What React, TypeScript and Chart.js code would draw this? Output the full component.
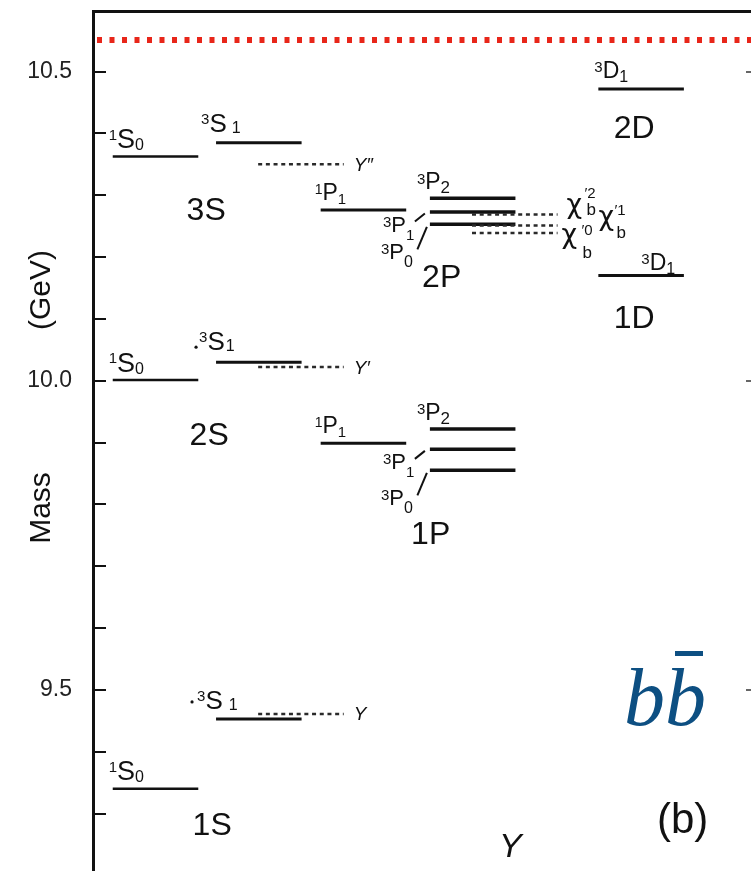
import React, { useEffect, useRef } from 'react';
import { Chart, registerables } from 'chart.js';

Chart.register(...registerables);

const SANS = '"Liberation Sans", Arial, Helvetica, sans-serif';
const GREEK = '"DejaVu Sans", "Liberation Sans", sans-serif';
const SERIF = '"Liberation Serif", "Times New Roman", serif';

// ---- mass axis (GeV) ----
const massMin = 9.207;
const massMax = 10.598;
const majorTickValues = [9.5, 10.0, 10.5];
const allTickValues = [9.3, 9.4, 9.5, 9.6, 9.7, 9.8, 9.9, 10.0, 10.1, 10.2, 10.3, 10.4, 10.5];
const thresholdMass = 10.551; // B B-bar threshold (red dotted line)

// ---- columns (horizontal slots, arbitrary 0..100 units) ----
const columnLabels = ['1S0', '3S1', '1P1', '3PJ', '3D1'];
const columnX = [9.5, 25.2, 41.1, 57.7, 83.3];
const levelHalfWidth = 6.5;
const measuredShift = 6.4;

// ---- predicted / measured masses (GeV) ----
const sWaveNames = ['1S', '2S', '3S'];
const singletS = [9.34, 10.001, 10.3625];
const tripletS = [9.453, 10.03, 10.385];
const upsilonNames = ['Υ', 'Υ′', 'Υ″'];
const upsilonMeasured = [9.461, 10.022, 10.35];
const pWaveNames = ['1P', '2P'];
const singletP = [9.899, 10.276];
const tripletP2 = [9.922, 10.295];
const tripletP1 = [9.889, 10.273];
const tripletP0 = [9.855, 10.253];
const chiPrimes = ['′2', '′1', '′0'];
const chi2PMeasured = [10.269, 10.251, 10.239];
const dWaveNames = ['1D', '2D'];
const tripletD = [10.17, 10.472];

const seg = (col: number, m: number, shift = 0) => [
  { x: columnX[col] + shift - levelHalfWidth, y: m },
  { x: columnX[col] + shift + levelHalfWidth, y: m },
];
const solid = (data: any, w = 3) => ({
  data, showLine: true, borderColor: '#111', borderWidth: w, pointRadius: 0, borderCapStyle: 'butt',
});
const dotted = (data: any) => ({
  data, showLine: true, borderColor: '#2a2a2a', borderWidth: 2.5, borderDash: [4, 3.7], pointRadius: 0,
});

function term(ctx: CanvasRenderingContext2D, x: number, y: number, sup: string, main: string, sub: string, o: any = {}) {
  const size = o.size ?? 26, supSize = o.supSize ?? 15, subSize = o.subSize ?? 16;
  ctx.textAlign = 'left';
  ctx.textBaseline = 'alphabetic';
  ctx.font = `${supSize}px ${SANS}`;
  ctx.fillText(sup, x, y + (o.supDy ?? -(size * 0.716 - supSize * 0.716)));
  let cx = x + ctx.measureText(sup).width;
  ctx.font = `${size}px ${SANS}`;
  ctx.fillText(main, cx, y);
  cx += ctx.measureText(main).width + (o.gap ?? 0);
  ctx.font = `${subSize}px ${SANS}`;
  ctx.fillText(sub, cx, y + (o.subDy ?? 3));
}

const annotate = {
  id: 'annotate',
  afterDraw(chart: any) {
    const { ctx, chartArea } = chart;
    const xs = chart.scales.x, ys = chart.scales.y;
    const X = (v: number) => xs.getPixelForValue(v);
    const Y = (v: number) => ys.getPixelForValue(v);
    ctx.save();
    ctx.fillStyle = '#111';
    ctx.strokeStyle = '#111';

    // inward tick marks on the left axis
    ctx.lineWidth = 2;
    allTickValues.forEach((v) => {
      const y = Math.round(Y(v));
      ctx.beginPath();
      ctx.moveTo(chartArea.left, y);
      ctx.lineTo(chartArea.left + 13, y);
      ctx.stroke();
    });
    // stubs of the right-hand axis ticks
    ctx.strokeStyle = '#666';
    majorTickValues.forEach((v) => {
      const y = Math.round(Y(v));
      ctx.beginPath();
      ctx.moveTo(chartArea.right - 5, y);
      ctx.lineTo(chartArea.right, y);
      ctx.stroke();
    });
    ctx.strokeStyle = '#111';

    // axis title (two parts)
    ctx.font = `30px ${SANS}`;
    ctx.textAlign = 'center';
    ctx.textBaseline = 'alphabetic';
    [['(GeV)', 290], ['Mass', 508]].forEach(([t, cy]: any) => {
      ctx.save();
      ctx.translate(50, cy);
      ctx.rotate(-Math.PI / 2);
      ctx.fillText(t, 0, 0);
      ctx.restore();
    });

    // S-wave labels
    const L0 = X(columnX[0] - levelHalfWidth);
    const L1 = X(columnX[1] - levelHalfWidth);
    singletS.forEach((m) => {
      term(ctx, L0 - 4, Y(m) - 8.5, '1', 'S', '0', { size: 27, supSize: 15, subSize: 16, subDy: 2 });
    });
    const tripletLayout = [
      { dx: -19, dy: -10, gap: 6, dot: [-24, -17] },
      { dx: -17, dy: -12, gap: 1, dot: [-20, -15] },
      { dx: -15, dy: -11, gap: 5, dot: null },
    ];
    tripletS.forEach((m, i) => {
      const t = tripletLayout[i];
      const ly = Y(m);
      term(ctx, L1 + t.dx, ly + t.dy, '3', 'S', '1', { size: 26, supSize: 15, subSize: 16, subDy: 1, gap: t.gap });
      if (t.dot) {
        ctx.beginPath();
        ctx.arc(L1 + t.dot[0], ly + t.dot[1], 1.6, 0, Math.PI * 2);
        ctx.fill();
      }
    });
    // measured upsilon labels
    upsilonMeasured.forEach((m, i) => {
      const xr = X(columnX[1] + measuredShift + levelHalfWidth);
      ctx.font = `italic 19px ${SANS}`;
      ctx.textAlign = 'left';
      ctx.fillText(upsilonNames[i], xr + 10, Y(m) + 6.5);
    });
    // S-wave group names
    const sNameLayout = [{ dx: 5, dy: 46 }, { dx: 2, dy: 65 }, { dx: -1, dy: 63 }];
    ctx.font = `32px ${SANS}`;
    ctx.textAlign = 'center';
    sWaveNames.forEach((n, i) => {
      const cx = (X(columnX[0]) + X(columnX[1])) / 2 + sNameLayout[i].dx;
      ctx.fillText(n, cx, Y(singletS[i]) + sNameLayout[i].dy);
    });

    // P-wave labels
    const L2 = X(columnX[2] - levelHalfWidth);
    const L3 = X(columnX[3] - levelHalfWidth);
    singletP.forEach((m) => {
      term(ctx, L2 - 6, Y(m) - 10, '1', 'P', '1', { size: 23, supSize: 14, subSize: 15, subDy: 4 });
    });
    tripletP2.forEach((m) => {
      term(ctx, L3 - 13, Y(m) - 9, '3', 'P', '2', { size: 23, supSize: 15, subSize: 17, subDy: 4 });
    });
    tripletP1.forEach((m) => {
      term(ctx, L3 - 47, Y(m) + 20, '3', 'P', '1', { size: 22, supSize: 15, subSize: 15, subDy: 8 });
    });
    tripletP0.forEach((m) => {
      term(ctx, L3 - 49, Y(m) + 35, '3', 'P', '0', { size: 22, supSize: 15, subSize: 16, subDy: 8 });
    });
    // connectors
    ctx.lineWidth = 2;
    tripletP1.forEach((m) => {
      const ly = Y(m);
      ctx.beginPath();
      ctx.moveTo(L3 - 15, ly + 9.5);
      ctx.lineTo(L3 - 5, ly + 1.5);
      ctx.stroke();
    });
    tripletP0.forEach((m) => {
      const ly = Y(m);
      ctx.beginPath();
      ctx.moveTo(L3 - 12.5, ly + 25);
      ctx.lineTo(L3 - 3, ly + 2.5);
      ctx.stroke();
    });
    // chi_b labels
    const chiLayout = [
      { chi: [9, -1.3], sup: [27, -16], sub: [29, 1] },
      { chi: [41, -0.7], sup: [57, -10.7], sub: [59, 12.3] },
      { chi: [4, 9.7], sup: [24, 1.7], sub: [25, 24.7] },
    ];
    chi2PMeasured.forEach((m, i) => {
      const xr = X(columnX[3] + measuredShift + levelHalfWidth);
      const ly = Y(m);
      const c = chiLayout[i];
      ctx.textAlign = 'left';
      ctx.font = `27px ${GREEK}`;
      ctx.fillText('χ', xr + c.chi[0], ly + c.chi[1]);
      ctx.font = `15px ${SANS}`;
      ctx.fillText(chiPrimes[i], xr + c.sup[0], ly + c.sup[1]);
      ctx.font = `17px ${SANS}`;
      ctx.fillText('b', xr + c.sub[0], ly + c.sub[1]);
    });
    // P-wave group names
    const pNameLayout = [{ dx: -42, dy: 74 }, { dx: -31, dy: 63 }];
    ctx.font = `32px ${SANS}`;
    ctx.textAlign = 'center';
    pWaveNames.forEach((n, i) => {
      ctx.fillText(n, X(columnX[3]) + pNameLayout[i].dx, Y(tripletP0[i]) + pNameLayout[i].dy);
    });

    // D-wave labels
    const L4 = X(columnX[4] - levelHalfWidth);
    const dTermLayout = [{ dx: 43, dy: -6 }, { dx: -4, dy: -11 }];
    tripletD.forEach((m, i) => {
      term(ctx, L4 + dTermLayout[i].dx, Y(m) + dTermLayout[i].dy, '3', 'D', '1', { size: 23, supSize: 15, subSize: 16, subDy: 4 });
    });
    const dNameLayout = [{ dx: -7, dy: 52 }, { dx: -7, dy: 49 }];
    ctx.font = `32px ${SANS}`;
    ctx.textAlign = 'center';
    dWaveNames.forEach((n, i) => {
      ctx.fillText(n, X(columnX[4]) + dNameLayout[i].dx, Y(tripletD[i]) + dNameLayout[i].dy);
    });

    // free annotations
    ctx.textAlign = 'left';
    ctx.fillStyle = '#0d4f82';
    ctx.font = `italic 82px ${SERIF}`;
    ctx.fillText('b', 624, 725);
    const bw = ctx.measureText('b').width;
    ctx.fillText('b', 624 + bw, 725);
    ctx.fillRect(675, 651, 28, 5);

    ctx.fillStyle = '#111';
    ctx.font = `42px ${SANS}`;
    ctx.fillText('(b)', 657, 833);
    ctx.font = `italic 34px ${SANS}`;
    ctx.fillText('Υ', 499, 857);

    ctx.restore();
  },
};

export default function App() {
  const ref = useRef<HTMLCanvasElement>(null);
  useEffect(() => {
    if (!ref.current) return;
    const datasets: any[] = [
      ...chi2PMeasured.map((m) => dotted(seg(3, m, measuredShift))),
      ...upsilonMeasured.map((m) => dotted(seg(1, m, measuredShift))),
      ...singletS.map((m) => solid(seg(0, m), 2.5)),
      ...tripletS.map((m) => solid(seg(1, m), 3)),
      ...singletP.map((m) => solid(seg(2, m), 3)),
      ...[...tripletP2, ...tripletP1, ...tripletP0].map((m) => solid(seg(3, m), 3.5)),
      ...tripletD.map((m) => solid(seg(4, m), 3)),
      {
        data: [{ x: 0, y: thresholdMass }, { x: 100, y: thresholdMass }],
        showLine: true, borderColor: '#e8261a', borderWidth: 6,
        borderDash: [5, 7.5], borderDashOffset: -4, pointRadius: 0, borderCapStyle: 'butt',
      },
    ];
    const chart = new Chart(ref.current, {
      type: 'scatter',
      data: { datasets },
      options: {
        animation: false,
        responsive: false,
        devicePixelRatio: 1,
        layout: { padding: 0 },
        plugins: { legend: { display: false }, tooltip: { enabled: false }, title: { display: false } },
        scales: {
          x: {
            type: 'linear', position: 'top', min: 0, max: 100,
            grid: { display: false, drawTicks: false },
            ticks: { display: false },
            border: { display: true, width: 3, color: '#111' },
            afterFit: (s: any) => { s.height = 11; s.paddingLeft = 0; s.paddingRight = 0; s.paddingTop = 0; s.paddingBottom = 0; },
          },
          y: {
            type: 'linear', position: 'left', min: massMin, max: massMax,
            afterBuildTicks: (s: any) => { s.ticks = allTickValues.map((v) => ({ value: v })); },
            ticks: {
              autoSkip: false,
              padding: 21,
              color: '#222',
              font: { family: SANS, size: 23 },
              callback: (v: any) => (majorTickValues.some((t) => Math.abs(t - v) < 1e-6) ? Number(v).toFixed(1) : ''),
            },
            grid: { display: false, drawTicks: false },
            border: { display: true, width: 3, color: '#111' },
            afterFit: (s: any) => { s.width = 93; s.paddingTop = 0; s.paddingBottom = 0; s.paddingLeft = 0; s.paddingRight = 0; },
          },
        },
      } as any,
      plugins: [annotate],
    });
    return () => chart.destroy();
  }, []);
  return (
    <div style={{ position: 'fixed', left: 0, top: 0, width: 751, height: 871, background: '#fff' }}>
      <canvas ref={ref} width={751} height={871} style={{ display: 'block', width: 751, height: 871 }} />
    </div>
  );
}
